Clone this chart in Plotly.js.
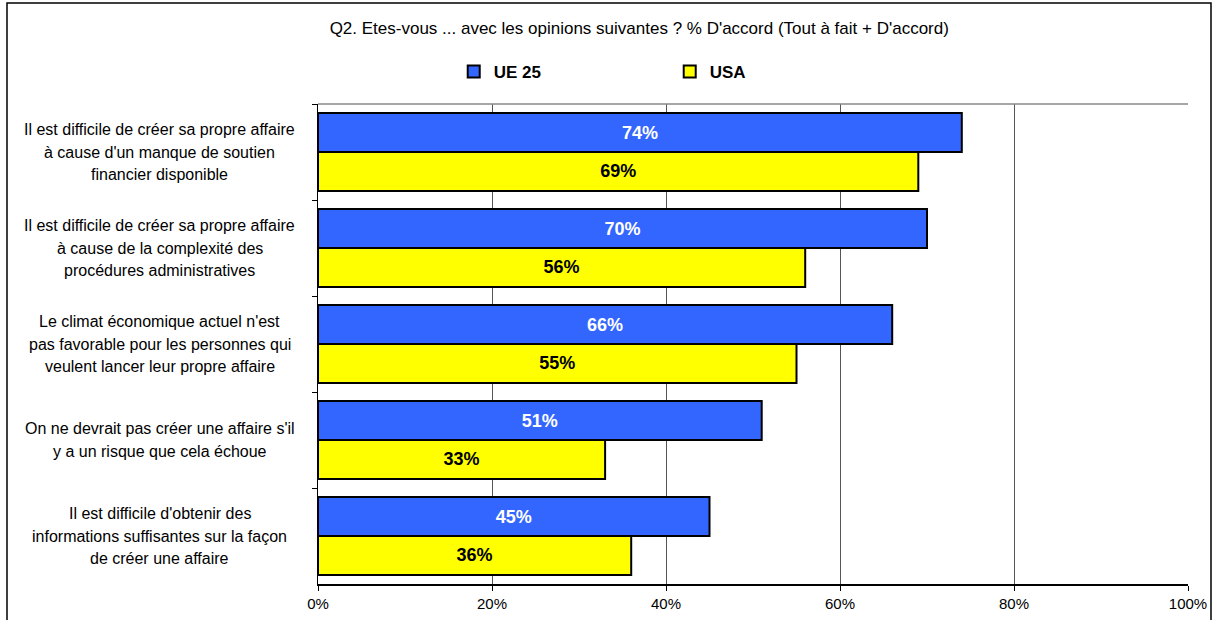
<!DOCTYPE html>
<html>
<head>
<meta charset="utf-8">
<script src="https://cdn.plot.ly/plotly-3.0.1.min.js"></script>
<style>html,body{margin:0;padding:0;background:#fff;}#chart{width:1213px;height:620px;}</style>
</head>
<body>
<div id="chart"></div>
<script>
const categories = [
  "Il est difficile de créer sa propre affaire<br>à cause d'un manque de soutien<br>financier disponible",
  "Il est difficile de créer sa propre affaire<br>à cause de la complexité des<br>procédures administratives",
  "Le climat économique actuel n'est<br>pas favorable pour les personnes qui<br>veulent lancer leur propre affaire",
  "On ne devrait pas créer une affaire s'il<br>y a un risque que cela échoue",
  "Il est difficile d'obtenir des<br>informations suffisantes sur la façon<br>de créer une affaire"
];
const seriesNames = ["UE 25", "USA"];
const ue25 = [74, 70, 66, 51, 45];
const usa = [69, 56, 55, 33, 36];
const xTickVals = [0, 20, 40, 60, 80, 100];
const xTickText = ["0%", "20%", "40%", "60%", "80%", "100%"];
const titleText = "Q2. Etes-vous ... avec les opinions suivantes ? % D'accord (Tout à fait + D'accord)";

const FONT = "Liberation Sans, Arial, sans-serif";
const ids = categories.map((c, i) => "c" + i);

function barTrace(name, vals, color, txtColor) {
  return {
    type: "bar", orientation: "h", name: name,
    x: vals, y: ids,
    marker: {color: color, line: {color: "#000", width: 2}},
    text: vals.map(v => v + "%"),
    textposition: "inside", insidetextanchor: "middle",
    constraintext: "none",
    textfont: {family: FONT, size: 18, color: txtColor, weight: "bold"},
    hoverinfo: "skip"
  };
}

const traces = [
  barTrace(seriesNames[0], ue25, "#3366FF", "#FFFFFF"),
  barTrace(seriesNames[1], usa, "#FFFF00", "#000000")
];

const annotations = [];
const LINE_H = 22.5;
categories.forEach((c, i) => {
  const lines = c.split("<br>");
  lines.forEach((ln, j) => {
    annotations.push({
      xref: "paper", yref: "y", x: -0.182, y: ids[i],
      xanchor: "center", yanchor: "middle",
      yshift: -((j - (lines.length - 1) / 2) * LINE_H),
      text: ln, showarrow: false,
      font: {family: FONT, size: 16, color: "#000"}
    });
  });
});

const layout = {
  width: 1213, height: 620,
  margin: {l: 318, r: 25, t: 104, b: 36},
  paper_bgcolor: "#fff", plot_bgcolor: "#fff",
  font: {family: FONT, color: "#000"},
  title: {text: titleText, font: {family: FONT, size: 17, color: "#000"},
          x: 0.527, xanchor: "center", y: 0.955, yanchor: "middle", xref: "container", yref: "container"},
  barmode: "group", bargap: 0.19, bargroupgap: 0,
  showlegend: true,
  legend: {orientation: "h", x: 0.156, xanchor: "left", y: 1.067, yanchor: "middle",
           font: {family: FONT, size: 17, color: "#000", weight: "bold"},
           itemwidth: 30, entrywidth: 171, entrywidthmode: "pixels", traceorder: "normal",
           bgcolor: "rgba(0,0,0,0)"},
  xaxis: {range: [0, 100], tickvals: xTickVals, ticktext: xTickText,
          showgrid: true, gridcolor: "#555", gridwidth: 1,
          showline: true, linecolor: "#000", linewidth: 1.5,
          ticks: "outside", ticklen: 5, tickcolor: "#000",
          tickfont: {family: FONT, size: 15, color: "#000"}, zeroline: false, fixedrange: true},
  yaxis: {type: "category", autorange: "reversed", showticklabels: false,
          showline: true, linecolor: "#000", linewidth: 1.5,
          ticks: "outside", ticklen: 5, tickcolor: "#000", tickson: "boundaries",
          showgrid: false, zeroline: false, fixedrange: true},
  annotations: annotations,
  shapes: [
    {type: "line", xref: "paper", yref: "paper", x0: 0, x1: 1, y0: 1, y1: 1,
     line: {color: "#888", width: 1.5}},
    {type: "rect", xref: "paper", yref: "paper",
     x0: (7 - 318) / 870, x1: (1211 - 318) / 870, y0: (584 - 630) / 480, y1: 1 + (104 - 3) / 480,
     line: {color: "#000", width: 1.5}, fillcolor: "rgba(0,0,0,0)"}
  ]
};

Plotly.newPlot("chart", traces, layout, {displayModeBar: false, staticPlot: true});
</script>
</body>
</html>
